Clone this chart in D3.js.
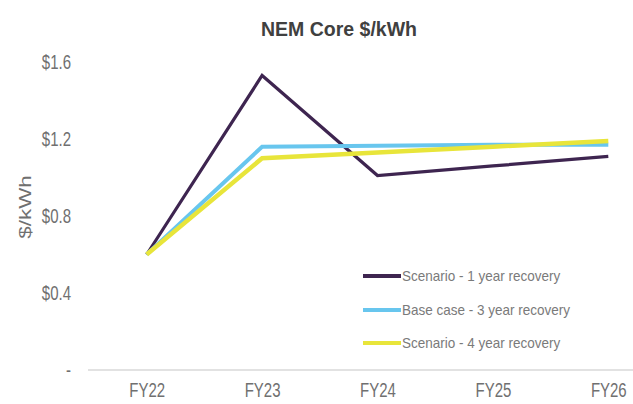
<!DOCTYPE html>
<html>
<head>
<meta charset="utf-8">
<script src="https://cdn.jsdelivr.net/npm/d3@7"></script>
<style>
  html, body { margin: 0; padding: 0; background: #ffffff; }
  svg { display: block; font-family: "Liberation Sans", Arial, sans-serif; }
</style>
</head>
<body>
<svg id="chart" width="633" height="404"></svg>
<script>
// Financial years on the x axis
const years = ["FY22", "FY23", "FY24", "FY25", "FY26"];

// $/kWh for each recovery scenario
const oneYearRecovery   = [0.60, 1.53, 1.01, 1.06, 1.11];
const threeYearRecovery = [0.60, 1.16, 1.165, 1.17, 1.17];
const fourYearRecovery  = [0.60, 1.10, 1.13, 1.16, 1.19];

const seriesNames = [
  "Scenario - 1 year recovery",
  "Base case - 3 year recovery",
  "Scenario - 4 year recovery"
];

// y axis ticks
const yTicks = [0, 0.4, 0.8, 1.2, 1.6];

const series = [
  { name: seriesNames[0], values: oneYearRecovery,   color: "#3e2550", width: 3.2 },
  { name: seriesNames[1], values: threeYearRecovery, color: "#68c6ee", width: 4 },
  { name: seriesNames[2], values: fourYearRecovery,  color: "#e8e53a", width: 4.5 }
];

const svg = d3.select("#chart");

const x = d3.scalePoint().domain(years).range([89, 666]).padding(0.5);
const y = d3.scaleLinear().domain([0, 1.6]).range([370, 62]);

// Title
svg.append("text")
  .attr("x", 339).attr("y", 36)
  .attr("text-anchor", "middle")
  .attr("font-size", 19.5)
  .attr("font-weight", "bold")
  .attr("fill", "#404040")
  .text("NEM Core $/kWh");

// Y axis title, stretched vertically for a condensed look
svg.append("text")
  .attr("transform", "translate(31,207) scale(1,1.4) rotate(-90)")
  .attr("text-anchor", "middle")
  .attr("font-size", 16)
  .attr("fill", "#707070")
  .text("$/kWh");

// Baseline
svg.append("line")
  .attr("x1", 88).attr("x2", 633)
  .attr("y1", y(0)).attr("y2", y(0))
  .attr("stroke", "#d9d9d9")
  .attr("stroke-width", 1.5);

// Y axis labels (zero shown as a dash)
const yAxis = d3.axisLeft(y)
  .tickValues(yTicks)
  .tickSize(0)
  .tickPadding(0)
  .tickFormat(d => d === 0 ? "-" : "$" + d3.format(".1f")(d));

const yG = svg.append("g").attr("transform", "translate(71,0)").call(yAxis);
yG.select(".domain").remove();
yG.selectAll(".tick text")
  .attr("x", 0).attr("y", 0).attr("dy", null)
  .attr("font-family", "Liberation Sans, Arial, sans-serif")
  .attr("font-size", 15)
  .attr("fill", "#707070")
  .attr("dominant-baseline", "central")
  .attr("transform", "scale(1,1.3)");

// X axis labels
const xAxis = d3.axisBottom(x).tickSize(0).tickPadding(0);
const xG = svg.append("g").attr("transform", "translate(0,390)").call(xAxis);
xG.select(".domain").remove();
xG.selectAll(".tick text")
  .attr("y", 0).attr("dy", null)
  .attr("font-family", "Liberation Sans, Arial, sans-serif")
  .attr("font-size", 15)
  .attr("fill", "#707070")
  .attr("dominant-baseline", "central")
  .attr("transform", "scale(1,1.3)");

// Lines
const line = d3.line()
  .x((d, i) => x(years[i]))
  .y(d => y(d));

svg.append("g").selectAll("path")
  .data(series)
  .join("path")
  .attr("d", s => line(s.values))
  .attr("fill", "none")
  .attr("stroke", s => s.color)
  .attr("stroke-width", s => s.width)
  .attr("stroke-linejoin", "miter");

// Legend
const legendRows = [276, 310, 343];
const legend = svg.append("g");
series.forEach((s, i) => {
  const g = legend.append("g").attr("transform", `translate(0,${legendRows[i]})`);
  g.append("line")
    .attr("x1", 363).attr("x2", 401)
    .attr("y1", 0).attr("y2", 0)
    .attr("stroke", s.color)
    .attr("stroke-width", 4);
  g.append("text")
    .attr("transform", "translate(402,0) scale(1,1.15)")
    .attr("font-size", 13.5)
    .attr("fill", "#7a7a7a")
    .attr("dominant-baseline", "central")
    .text(s.name);
});
</script>
</body>
</html>
